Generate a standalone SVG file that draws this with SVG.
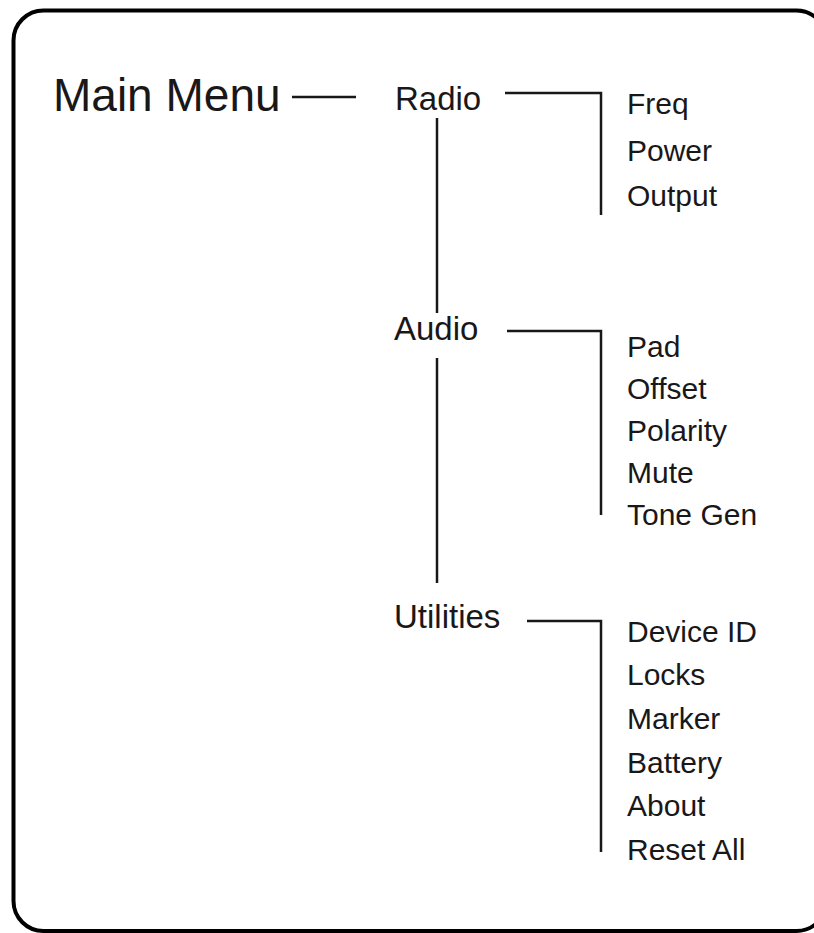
<svg xmlns="http://www.w3.org/2000/svg" width="814" height="933" viewBox="0 0 814 933">
  <style>
    text { font-family: "Liberation Sans", Arial, sans-serif; fill: #1a1718; }
    .main { font-size: 46px; }
    .menu { font-size: 33px; }
    .item { font-size: 30px; }
    .conn { fill: none; stroke: #1a1718; stroke-width: 2.5; stroke-linecap: butt; stroke-linejoin: miter; }
  </style>
  <rect x="0" y="0" width="814" height="933" fill="#ffffff"/>
  <rect id="frame" x="13.5" y="10.5" width="813" height="920.5" rx="30" ry="30" fill="none" stroke="#000000" stroke-width="4"/>

  <g id="connectors">
    <line class="conn" x1="292" y1="97" x2="356" y2="97"/>
    <polyline class="conn" points="505,93 601,93 601,215"/>
    <line class="conn" x1="437" y1="118" x2="437" y2="313"/>
    <polyline class="conn" points="507,331 601,331 601,515"/>
    <line class="conn" x1="437" y1="358" x2="437" y2="583"/>
    <polyline class="conn" points="527,621 601,621 601,852"/>
  </g>

  <g id="main-menu"><text class="main" x="53" y="111">Main Menu</text></g>

  <g id="radio"><text class="menu" x="395" y="110">Radio</text></g>
  <g id="freq"><text class="item" x="627" y="114">Freq</text></g>
  <g id="power"><text class="item" x="627" y="161">Power</text></g>
  <g id="output"><text class="item" x="627" y="206">Output</text></g>

  <g id="audio"><text class="menu" x="394" y="340">Audio</text></g>
  <g id="pad"><text class="item" x="627" y="357">Pad</text></g>
  <g id="offset"><text class="item" x="627" y="399">Offset</text></g>
  <g id="polarity"><text class="item" x="627" y="441">Polarity</text></g>
  <g id="mute"><text class="item" x="627" y="483">Mute</text></g>
  <g id="tone-gen"><text class="item" x="627" y="525">Tone Gen</text></g>

  <g id="utilities"><text class="menu" x="394" y="628">Utilities</text></g>
  <g id="device-id"><text class="item" x="627" y="642">Device ID</text></g>
  <g id="locks"><text class="item" x="627" y="685">Locks</text></g>
  <g id="marker"><text class="item" x="627" y="729">Marker</text></g>
  <g id="battery"><text class="item" x="627" y="773">Battery</text></g>
  <g id="about"><text class="item" x="627" y="816">About</text></g>
  <g id="reset-all"><text class="item" x="627" y="860">Reset All</text></g>
</svg>
